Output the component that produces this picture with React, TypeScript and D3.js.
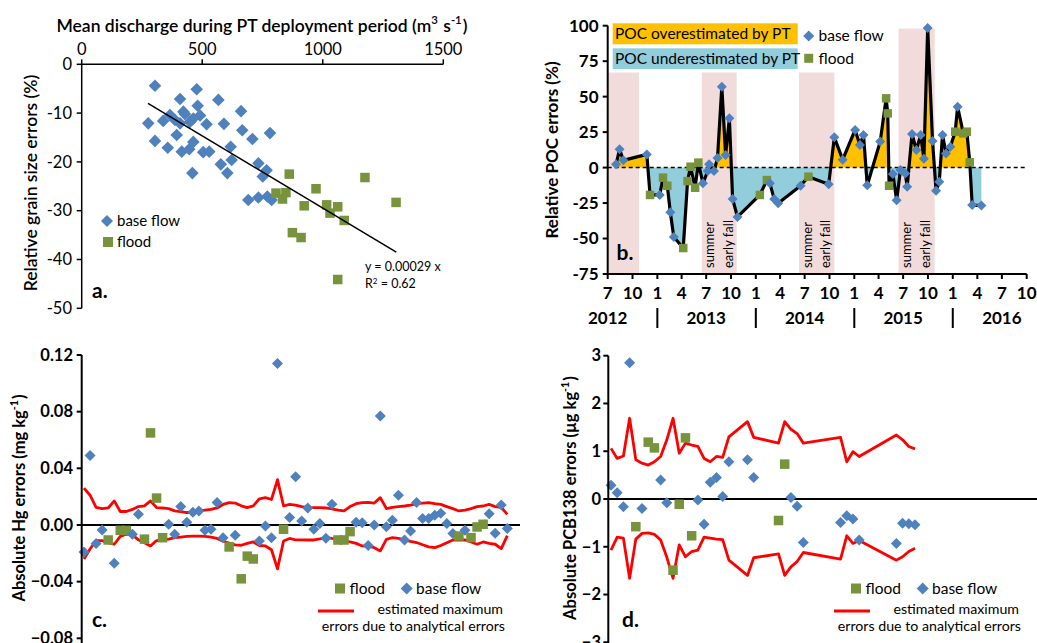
import React from "react";
import * as d3 from "d3";

// ---- panel a : grain size errors vs discharge ----
const grainBaseQ = [304, 477, 408, 567, 481, 661, 276, 338, 366, 428, 449, 491, 463, 408, 518, 590, 666, 708, 781, 304, 357, 394, 415, 446, 463, 504, 529, 618, 622, 577, 604, 459, 733, 767, 751, 691, 733, 770, 788, 422, 387];
const grainBaseErr = [-4.4, -5.1, -7.1, -7.3, -8.5, -9.6, -12.1, -11.6, -10.4, -10.2, -11.8, -10.5, -11.1, -12.1, -12.3, -12.2, -13.5, -15.3, -14.1, -15.7, -17.1, -14.5, -17.9, -17.4, -15.9, -18.0, -17.9, -16.9, -19.6, -20.5, -22.3, -22.3, -20.3, -21.7, -23.0, -27.8, -27.3, -27.1, -27.8, -9.7, -11.4];
const grainFloodQ = [861, 806, 847, 833, 972, 1016, 1062, 1030, 1089, 923, 874, 910, 1175, 1304, 1062];
const grainFloodErr = [-22.5, -26.4, -26.3, -27.6, -25.5, -28.8, -29.2, -30.5, -32.0, -29.0, -34.5, -35.5, -23.2, -28.3, -44.1];
const grainFitQ = [275, 1305];
const grainFitErr = [-8, -38.5];
const grainXTicks = [0, 500, 1000, 1500];
const grainYTicks = [0, -10, -20, -30, -40, -50];

// ---- panel b : POC errors through time ----
const pocDates = ["2012-08-01", "2012-08-14", "2012-08-28", "2012-11-23", "2012-12-05", "2013-01-10", "2013-01-22", "2013-02-07", "2013-02-18", "2013-03-03", "2013-04-07", "2013-04-23", "2013-05-04", "2013-05-21", "2013-06-02", "2013-06-19", "2013-07-07", "2013-07-12", "2013-07-30", "2013-08-12", "2013-08-28", "2013-09-11", "2013-09-25", "2013-10-07", "2013-10-25", "2014-01-16", "2014-02-11", "2014-02-22", "2014-03-10", "2014-03-25", "2014-06-16", "2014-07-15", "2014-09-28", "2014-10-19", "2014-11-19", "2015-01-04", "2015-01-22", "2015-02-04", "2015-02-18", "2015-04-07", "2015-04-29", "2015-05-05", "2015-05-10", "2015-05-24", "2015-06-07", "2015-06-21", "2015-07-09", "2015-07-16", "2015-08-03", "2015-08-19", "2015-09-04", "2015-09-16", "2015-09-30", "2015-10-18", "2015-10-31", "2015-11-12", "2015-11-24", "2015-12-07", "2015-12-23", "2016-01-10", "2016-01-19", "2016-02-09", "2016-02-22", "2016-03-04", "2016-03-13", "2016-04-16"];
const pocErr = [2.3, 12.9, 5.1, 9.3, -19.3, -19.3, -7.1, -12.8, -31.5, -48.9, -56.7, -9.5, 0.6, -14.2, 3.5, -11.1, -2.4, 2.3, -2.4, 6.7, 57.0, 8.9, 34.7, -22.1, -34.8, -19.3, -8.8, -11.1, -22.1, -25.2, -12.8, -6.4, -11.8, 21.3, 5.6, 26.5, 15.9, 23.0, -12.5, 18.3, 48.8, 38.2, -12.8, -4.5, -23.1, -1.7, -4.1, -13.5, 23.7, 12.4, 23.0, 6.3, 98.4, 18.7, -16.3, -9.9, 23.0, 10.0, 14.7, 25.3, 42.9, 24.1, 25.3, 3.7, -26.4, -26.8];
const pocType = "bbbbfbffbbfffffbbbbbbbbbbffbbbbfbbbbbbbbfffbbbbbbbbbbbbbbbbfbfffbb".split("");
const pocBandStart = ["2012-07-01", "2013-06-15", "2014-06-10", "2015-06-14"];
const pocBandEnd = ["2012-10-25", "2013-10-22", "2014-10-19", "2015-10-26"];
const pocBandTop = [67, 67, 67, 98];
const pocYears = [2012, 2013, 2014, 2015, 2016];
const pocYTicks = [100, 75, 50, 25, 0, -25, -50, -75];

// ---- panel c : Hg absolute errors ----
const hgErr = [-0.019, 0.049, -0.013, -0.0035, -0.0106, -0.027, -0.0038, -0.0038, -0.0066, 0.0075, -0.010, 0.065, 0.019, -0.009, 0.0005, -0.0066, 0.013, 0.002, 0.009, 0.0099, -0.0038, -0.003, 0.0158, -0.009, -0.0155, -0.0073, -0.038, -0.022, -0.024, -0.0113, -0.0007, -0.009, 0.114, -0.003, 0.0052, 0.034, 0.0028, 0.012, -0.003, 0.001, -0.0094, 0.0146, -0.0106, -0.0106, -0.0047, 0.002, 0.0016, -0.0144, 0, 0.077, -0.0012, 0.0033, 0.021, -0.0106, -0.0042, 0.0158, 0.0045, 0.0045, 0.0068, 0.0082, 0.001, -0.0061, -0.0078, -0.0038, -0.0089, -0.0014, 0.0005, 0.008, -0.0059, 0.0141, -0.0024];
const hgType = "bbbbfbffbbffffbbbbbbbbbbfbfffbbbbfbbbbbbbbfffbbbbbbbbbbbbbbbbbfbfffbbbb".split("");
const hgUpper = [0.026, 0.021, 0.0125, 0.0115, 0.012, 0.017, 0.0095, 0.0095, 0.011, 0.013, 0.0135, 0.017, 0.0123, 0.012, 0.0115, 0.010, 0.0095, 0.0088, 0.009, 0.0099, 0.0105, 0.011, 0.012, 0.0145, 0.0158, 0.0155, 0.0135, 0.0123, 0.0135, 0.0185, 0.0193, 0.018, 0.032, 0.0134, 0.0145, 0.014, 0.013, 0.0123, 0.0123, 0.0123, 0.012, 0.0113, 0.0105, 0.0099, 0.013, 0.015, 0.0158, 0.016, 0.0155, 0.0193, 0.0116, 0.0125, 0.013, 0.0134, 0.014, 0.015, 0.0155, 0.0158, 0.015, 0.0145, 0.013, 0.0115, 0.0099, 0.0105, 0.0115, 0.013, 0.0134, 0.0145, 0.013, 0.0125, 0.0075];
const hgLower = [-0.024, -0.017, -0.011, -0.011, -0.0125, -0.0136, -0.008, -0.0065, -0.007, -0.0105, -0.0125, -0.0148, -0.011, -0.0105, -0.010, -0.009, -0.0085, -0.008, -0.0078, -0.0078, -0.008, -0.0085, -0.0095, -0.0115, -0.0128, -0.014, -0.0143, -0.013, -0.012, -0.0145, -0.0148, -0.0175, -0.031, -0.0113, -0.0095, -0.0105, -0.0105, -0.0106, -0.0106, -0.0098, -0.0089, -0.0095, -0.010, -0.0108, -0.012, -0.013, -0.0148, -0.015, -0.016, -0.0183, -0.0101, -0.009, -0.0095, -0.0105, -0.0115, -0.0124, -0.014, -0.0155, -0.016, -0.0145, -0.0125, -0.0106, -0.0106, -0.0105, -0.012, -0.0136, -0.012, -0.013, -0.0136, -0.0167, -0.0075];
const hgYTicks = [0.12, 0.08, 0.04, 0, -0.04, -0.08];

// ---- panel d : PCB138 absolute errors ----
const pcbSlot = [0, 1, 2, 3, 4, 5, 6, 7, 8, 9, 10, 11, 12, 13, 14, 15, 16, 17, 18, 19, 22, 23, 27, 28, 29, 30, 31, 37, 38, 39, 40, 46, 47, 48, 49];
const pcbErr = [0.29, 0.13, -0.16, 2.85, -0.58, -0.2, 1.19, 1.07, 0.40, -0.08, -1.49, -0.11, 1.28, -0.77, -0.02, -0.53, 0.35, 0.45, 0.05, 0.78, 0.82, 0.45, -0.45, 0.73, 0.03, -0.15, -0.91, -0.49, -0.35, -0.42, -0.86, -0.93, -0.51, -0.52, -0.54];
const pcbType = "bbbbfbffbbffffbbbbbbbbffbbbbbbbbbbb".split("");
const pcbUpper = [1.06, 0.85, 0.9, 1.69, 0.82, 0.75, 0.71, 0.78, 0.89, 1.24, 1.69, 0.96, 1.17, 1.13, 1.10, 0.85, 0.78, 0.89, 0.87, 1.30, 1.62, 1.29, 1.17, 1.62, 1.46, 1.37, 1.17, 1.29, 0.78, 0.99, 0.89, 1.34, 1.24, 1.10, 1.05];
const pcbLower = [-1.07, -0.80, -0.82, -1.66, -0.84, -0.72, -0.71, -0.74, -0.86, -1.22, -1.66, -0.96, -1.21, -1.10, -1.07, -0.80, -0.82, -0.84, -0.85, -1.28, -1.60, -1.23, -1.15, -1.60, -1.42, -1.31, -1.12, -1.26, -0.77, -0.93, -0.87, -1.28, -1.21, -1.10, -1.03];
const pcbYTicks = [3, 2, 1, 0, -1, -2, -3];

const BLUE = "#4f81bd";
const GREEN = "#77933c";
const RED = "#ff0000";
const FONT = "Lato, 'Open Sans', sans-serif";

const Diamond = ({ x, y, r }: { x: number; y: number; r: number }) => (
  <path d={`M${x},${y - r}L${x + r},${y}L${x},${y + r}L${x - r},${y}Z`} fill={BLUE} />
);
const Square = ({ x, y, s }: { x: number; y: number; s: number }) => (
  <rect x={x - s / 2} y={y - s / 2} width={s} height={s} fill={GREEN} />
);

// superscript helper for units
const Sup = ({ t, size }: { t: string; size: number }) => (
  <>
    <tspan dy={-size * 0.45} fontSize={size * 0.65}>{t}</tspan>
    <tspan dy={size * 0.45}>{"\u200a"}</tspan>
  </>
);

const parse = d3.timeParse("%Y-%m-%d");

const PanelA = () => {
  const x = d3.scaleLinear().domain([0, 1500]).range([81.7, 443.3]);
  const y = d3.scaleLinear().domain([-50, 0]).range([308.3, 64.3]);
  return (
    <g fontFamily={FONT}>
      <text x={262} y={32} textAnchor="middle" fontSize={17.5} fontWeight={600}>
        Mean discharge during PT deployment period (m<Sup t="3" size={17.5} /> s<Sup t="-1" size={17.5} />)
      </text>
      {grainXTicks.map(t => (
        <g key={t}>
          <line x1={x(t)} x2={x(t)} y1={y(0)} y2={y(0) - 5} stroke="#000" strokeWidth={1.5} />
          <text x={x(t)} y={55} textAnchor="middle" fontSize={16.5}>{t}</text>
        </g>
      ))}
      {grainYTicks.map(t => (
        <g key={t}>
          <line x1={x(0) - 5} x2={x(0)} y1={y(t)} y2={y(t)} stroke="#000" strokeWidth={1.5} />
          <text x={72} y={y(t)} dy="0.35em" textAnchor="end" fontSize={16.5}>{t}</text>
        </g>
      ))}
      <line x1={x(0)} x2={x(1500)} y1={y(0)} y2={y(0)} stroke="#000" strokeWidth={1.5} />
      <line x1={x(0)} x2={x(0)} y1={y(0)} y2={y(-50)} stroke="#000" strokeWidth={1.5} />
      <text transform={`translate(37,183) rotate(-90)`} textAnchor="middle" fontSize={17.5} fontWeight={600}>
        Relative grain size errors (%)
      </text>
      {grainBaseQ.map((q, i) => <Diamond key={i} x={x(q)} y={y(grainBaseErr[i])} r={6.3} />)}
      {grainFloodQ.map((q, i) => <Square key={i} x={x(q)} y={y(grainFloodErr[i])} s={9.5} />)}
      <line x1={x(grainFitQ[0])} y1={y(grainFitErr[0])} x2={x(grainFitQ[1])} y2={y(grainFitErr[1])} stroke="#000" strokeWidth={1.5} />
      <text x={365} y={271} fontSize={12.5}>y = 0.00029 x</text>
      <text x={365} y={288} fontSize={12.5}>R<tspan dy={-4} fontSize={8}>2</tspan><tspan dy={4}> = 0.62</tspan></text>
      <Diamond x={107} y={221} r={6} />
      <text x={117} y={221} dy="0.35em" fontSize={15}>base flow</text>
      <Square x={108} y={242} s={10} />
      <text x={117} y={242} dy="0.35em" fontSize={15}>flood</text>
      <text x={92} y={298} fontSize={21} fontWeight={700}>a.</text>
    </g>
  );
};

const PanelB = () => {
  const x = d3.scaleTime().domain([new Date(2012, 6, 1), new Date(2016, 9, 1)]).range([607.7, 1026.7]);
  const y = d3.scaleLinear().domain([-75, 100]).range([274, 25.7]);
  const dates = pocDates.map(d => parse(d) as Date);
  const pts = dates.map((d, i) => [x(d), y(pocErr[i])] as [number, number]);
  const line = d3.line()(pts) as string;
  const area = d3.area<[number, number]>().x(p => p[0]).y0(y(0)).y1(p => p[1])(pts) as string;
  const monthTicks = d3.timeMonth.every(3)!.range(new Date(2012, 6, 1), new Date(2016, 9, 2));
  const fmt = d3.timeFormat("%-m");
  return (
    <g fontFamily={FONT}>
      <defs>
        <clipPath id="above"><rect x={600} y={0} width={437} height={y(0)} /></clipPath>
        <clipPath id="below"><rect x={600} y={y(0)} width={437} height={300} /></clipPath>
      </defs>
      {pocBandStart.map((s, i) => {
        const x0 = x(parse(s) as Date), x1 = x(parse(pocBandEnd[i]) as Date);
        return (
          <g key={s}>
            <rect x={x0} y={y(pocBandTop[i])} width={x1 - x0} height={y(-75) - y(pocBandTop[i])} fill="#f2dcdb" />
            {i > 0 && (
              <>
                <text transform={`translate(${x0 + 8},268) rotate(-90)`} dy="0.35em" fontSize={13}>summer</text>
                <text transform={`translate(${x0 + 26.5},268) rotate(-90)`} dy="0.35em" fontSize={13}>early fall</text>
              </>
            )}
          </g>
        );
      })}
      <path d={area} fill="#ffc000" clipPath="url(#above)" />
      <path d={area} fill="#92cddc" clipPath="url(#below)" />
      <line x1={x.range()[0]} x2={1026.7} y1={y(0)} y2={y(0)} stroke="#000" strokeWidth={1.5} strokeDasharray="4,3" />
      <path d={line} fill="none" stroke="#000" strokeWidth={3.2} strokeLinejoin="round" />
      {pts.map((p, i) => pocType[i] === "b"
        ? <Diamond key={i} x={p[0]} y={p[1]} r={5} />
        : <Square key={i} x={p[0]} y={p[1]} s={8.5} />)}
      <line x1={607.7} x2={607.7} y1={y(100)} y2={y(-75)} stroke="#000" strokeWidth={2} />
      <line x1={607.7} x2={1026.7} y1={y(-75)} y2={y(-75)} stroke="#000" strokeWidth={2} />
      {pocYTicks.map(t => (
        <g key={t}>
          <line x1={602.7} x2={607.7} y1={y(t)} y2={y(t)} stroke="#000" strokeWidth={2} />
          <text x={598.5} y={y(t)} dy="0.35em" textAnchor="end" fontSize={17} fontWeight={700}>{t}</text>
        </g>
      ))}
      {monthTicks.map(d => (
        <g key={+d}>
          <line x1={x(d)} x2={x(d)} y1={y(-75)} y2={y(-75) + 5} stroke="#000" strokeWidth={2} />
          <text x={x(d)} y={299} textAnchor="middle" fontSize={17} fontWeight={700}>{fmt(d)}</text>
        </g>
      ))}
      {pocYears.map(yr => (
        <g key={yr}>
          <text x={x(new Date(yr, 6, 1))} y={324} textAnchor="middle" fontSize={17} fontWeight={700}>{yr}</text>
          {yr > 2012 && <line x1={x(new Date(yr, 0, 1))} x2={x(new Date(yr, 0, 1))} y1={308} y2={328} stroke="#000" strokeWidth={2} />}
        </g>
      ))}
      <text transform={`translate(558,150) rotate(-90)`} textAnchor="middle" fontSize={17} fontWeight={700}>
        Relative POC  errors (%)
      </text>
      <rect x={612.7} y={23.3} width={185} height={21} fill="#ffc000" />
      <text x={615} y={34} dy="0.35em" fontSize={15.5}>POC overestimated by PT</text>
      <rect x={612.7} y={48.3} width={185} height={20.7} fill="#92cddc" />
      <text x={615} y={58.7} dy="0.35em" fontSize={15.5}>POC underestimated by PT</text>
      <Diamond x={808.7} y={36} r={5.5} />
      <text x={818.5} y={36} dy="0.35em" fontSize={15.5}>base flow</text>
      <Square x={808.7} y={58.3} s={9} />
      <text x={818.5} y={58.3} dy="0.35em" fontSize={15.5}>flood</text>
      <text x={616.5} y={260} fontSize={21} fontWeight={700}>b.</text>
    </g>
  );
};

type ErrProps = {
  xs: number[]; err: number[]; type: string[]; upper: number[]; lower: number[];
  x: d3.ScaleLinear<number, number>; y: d3.ScaleLinear<number, number>;
  axisX: number; zeroEnd: number; ticks: number[]; tickFmt: (v: number) => string;
  labelX: number; ylabel: React.ReactNode; letter: string; letterX: number;
  legX: number;
};

const ErrPanel = (p: ErrProps) => {
  const upper = d3.line()(p.xs.map((v, i) => [p.x(v), p.y(p.upper[i])])) as string;
  const lower = d3.line()(p.xs.map((v, i) => [p.x(v), p.y(p.lower[i])])) as string;
  const L = p.legX;
  return (
    <g fontFamily={FONT}>
      <line x1={p.axisX} x2={p.zeroEnd} y1={p.y(0)} y2={p.y(0)} stroke="#000" strokeWidth={2.2} />
      <path d={upper} fill="none" stroke={RED} strokeWidth={2.8} strokeLinejoin="round" />
      <path d={lower} fill="none" stroke={RED} strokeWidth={2.8} strokeLinejoin="round" />
      {p.xs.map((v, i) => p.type[i] === "b"
        ? <Diamond key={i} x={p.x(v)} y={p.y(p.err[i])} r={5.5} />
        : <Square key={i} x={p.x(v)} y={p.y(p.err[i])} s={9.5} />)}
      <line x1={p.axisX} x2={p.axisX} y1={p.y(p.ticks[0])} y2={643} stroke="#000" strokeWidth={2} />
      {p.ticks.map(t => (
        <g key={t}>
          <line x1={p.axisX - 5} x2={p.axisX} y1={p.y(t)} y2={p.y(t)} stroke="#000" strokeWidth={2} />
          <text x={p.labelX} y={p.y(t)} dy="0.35em" textAnchor="end" fontSize={16.5} fontWeight={700}>{p.tickFmt(t)}</text>
        </g>
      ))}
      {p.ylabel}
      <Square x={L} y={588.5} s={10} />
      <text x={L + 9.5} y={588.5} dy="0.35em" fontSize={15.5}>flood</text>
      <Diamond x={L + 66.7} y={588.5} r={6} />
      <text x={L + 76} y={588.5} dy="0.35em" fontSize={15.5}>base flow</text>
      <line x1={L - 22} x2={L + 14} y1={611} y2={611} stroke={RED} strokeWidth={3} />
      <text x={L + 163} y={609} dy="0.35em" textAnchor="end" fontSize={14.2}>estimated maximum</text>
      <text x={L + 165} y={626} dy="0.35em" textAnchor="end" fontSize={14.2}>errors due to analytical errors</text>
      <text x={p.letterX} y={627} fontSize={21} fontWeight={700}>{p.letter}</text>
    </g>
  );
};

const PanelC = () => {
  const x = d3.scaleLinear().domain([0, hgErr.length - 1]).range([84, 507.3]);
  const y = d3.scaleLinear().domain([-0.08, 0.12]).range([638.3, 355]);
  const label = (
    <text transform={`translate(25,498) rotate(-90)`} textAnchor="middle" fontSize={16.5} fontWeight={700}>
      Absolute Hg errors (mg kg<Sup t="-1" size={16.5} />)
    </text>
  );
  return (
    <ErrPanel xs={hgErr.map((_, i) => i)} err={hgErr} type={hgType} upper={hgUpper} lower={hgLower}
      x={x} y={y} axisX={81.7} zeroEnd={520} ticks={hgYTicks} tickFmt={d3.format(".2f")}
      labelX={73} ylabel={label} letter="c." letterX={92} legX={340} />
  );
};

const PanelD = () => {
  const x = d3.scaleLinear().domain([0, 49]).range([611, 915]);
  const y = d3.scaleLinear().domain([-3, 3]).range([642.3, 355.7]);
  const label = (
    <text transform={`translate(576,498) rotate(-90)`} textAnchor="middle" fontSize={16.5} fontWeight={700}>
      Absolute PCB138 errors (µg kg<Sup t="-1" size={16.5} />)
    </text>
  );
  return (
    <ErrPanel xs={pcbSlot} err={pcbErr} type={pcbType} upper={pcbUpper} lower={pcbLower}
      x={x} y={y} axisX={608.3} zeroEnd={1037} ticks={pcbYTicks} tickFmt={d3.format("d")}
      labelX={601} ylabel={label} letter="d." letterX={622} legX={856} />
  );
};

export default function App() {
  return (
    <svg width={1037} height={643} style={{ position: "absolute", left: 0, top: 0, background: "#fff" }}>
      <PanelA />
      <PanelB />
      <PanelC />
      <PanelD />
    </svg>
  );
}
